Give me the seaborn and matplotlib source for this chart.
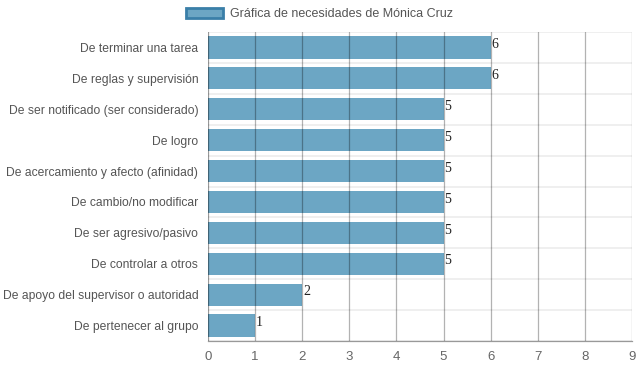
import matplotlib
matplotlib.use("Agg")
import matplotlib.pyplot as plt
from matplotlib.patches import Patch
import seaborn as sns

# datos de la gráfica
categorias = [
    "De terminar una tarea",
    "De reglas y supervisión",
    "De ser notificado (ser considerado)",
    "De logro",
    "De acercamiento y afecto (afinidad)",
    "De cambio/no modificar",
    "De ser agresivo/pasivo",
    "De controlar a otros",
    "De apoyo del supervisor o autoridad",
    "De pertenecer al grupo",
]
valores = [6, 6, 5, 5, 5, 5, 5, 5, 2, 1]
xticks = list(range(0, 10))
titulo_leyenda = "Gráfica de necesidades de Mónica Cruz"

sns.set_style("white")
plt.rcParams["font.family"] = ["Liberation Sans", "DejaVu Sans"]

fig = plt.figure(figsize=(6.39, 3.72), dpi=100)
ax = fig.add_axes([0.3255, 0.0833, 0.9890 - 0.3255, 0.914 - 0.0833])

sns.barplot(x=valores, y=categorias, orient="h", color="#6ca6c4",
            saturation=1, width=0.72, ax=ax, zorder=3, linewidth=0)

# rejilla estilo chart.js (las líneas verticales se ven a través de las barras)
ax.set_xlim(0, 9)
ax.set_xticks(xticks)
ax.set_ylim(len(categorias) - 0.5, -0.5)
for xv in xticks:
    ax.axvline(xv, color="black", alpha=0.3 if xv else 0.4, lw=0.9, zorder=4)
bordes = [i - 0.5 for i in range(len(categorias) + 1)]
for b in bordes:
    ax.axhline(b, color="#ececec", lw=1.2, zorder=0)
ax.set_yticks(bordes, minor=True)
ax.tick_params(axis="y", which="minor", length=8, color="#ececec", width=1.2)

for s in ["top", "right", "left"]:
    ax.spines[s].set_visible(False)
ax.spines["bottom"].set_color("#999999")
ax.spines["bottom"].set_linewidth(0.9)

ax.tick_params(axis="x", length=5, color="#a8a8a8", labelsize=9.5,
               labelcolor="#666666", pad=2)
ax.tick_params(axis="y", which="major", length=0, labelsize=8.7,
               labelcolor="#555555", pad=7)
ax.set_xlabel("")
ax.set_ylabel("")

# etiquetas de valor
for p, v in zip(ax.patches, valores):
    ax.annotate(str(v), (p.get_width(), p.get_y() + p.get_height() / 2),
                xytext=(0.5, 2), textcoords="offset points",
                va="center", ha="left", fontsize=10,
                family=["Liberation Serif", "DejaVu Serif"], color="#222222",
                zorder=5)

# leyenda
handle = Patch(facecolor="#6ca6c4", edgecolor="#3a7fa8", linewidth=2)
leg = fig.legend([handle], [titulo_leyenda], loc="center",
                 bbox_to_anchor=(0.5, 0.962), frameon=False,
                 handlelength=3.0, handleheight=0.9,
                 handletextpad=0.6, fontsize=9)
for t in leg.get_texts():
    t.set_color("#555555")

fig.savefig("out.png", dpi=100)
